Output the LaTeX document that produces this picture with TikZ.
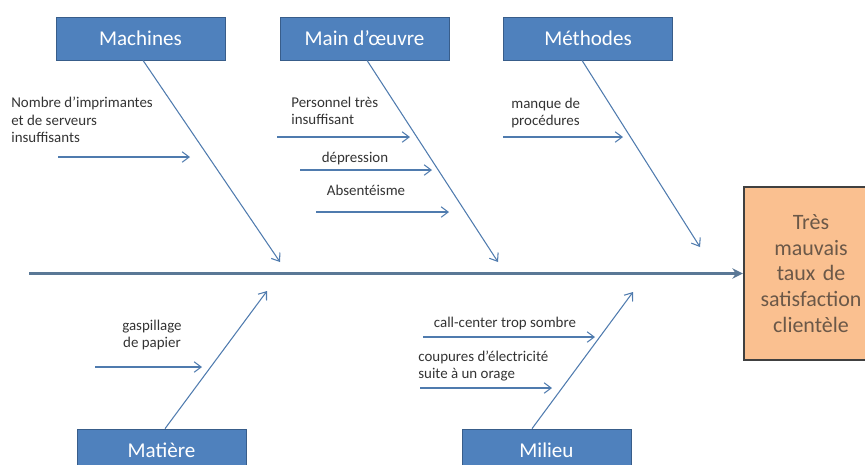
\documentclass[tikz,border=0pt]{standalone}
\usepackage{fontspec}
\setmainfont{Carlito}
\usetikzlibrary{arrows.meta}
\definecolor{boxblue}{HTML}{4F81BD}
\definecolor{boxline}{HTML}{385D8A}
\definecolor{arrowcol}{HTML}{4F7BAE}
\definecolor{spinecol}{HTML}{5A7896}
\definecolor{effectfill}{HTML}{FAC090}
\definecolor{effecttext}{HTML}{6B5848}
\tikzset{
  catbox/.style={draw=boxline, fill=boxblue, text=white, minimum width=3.38cm,
    minimum height=0.86cm, inner sep=0pt, font=\fontsize{12}{14}\selectfont},
  effectbox/.style={draw=black!75, line width=1.2pt, fill=effectfill, text=effecttext,
    minimum width=2.52cm, minimum height=3.46cm, text width=2.45cm, align=center,
    font=\fontsize{12.5}{14.7}\selectfont},
  cause/.style={inner sep=0pt, text=black!80, font=\fontsize{8.5}{9.8}\selectfont},
  branch/.style={draw=arrowcol, line width=0.6pt, -{Straight Barb[length=4pt,width=6pt]}},
  subarrow/.style={draw=arrowcol, line width=0.6pt, -{Straight Barb[length=4pt,width=6pt]}},
  spine/.style={draw=spinecol, line width=1.4pt, -{Stealth[length=6pt,width=6pt]}}
}
\begin{document}
\begin{tikzpicture}[x=0.02cm, y=-0.02cm]
  \useasboundingbox (0,0) rectangle (865,464);
  \clip (0,0) rectangle (865,464);

  % Category boxes
  \node [catbox] (mach) at (140.5,38.5) {Machines};
  \node [catbox] (mainoe) at (364.5,38.5) {Main d’œuvre};
  \node [catbox] (meth) at (588,38.5) {Méthodes};
  \node [catbox] (mati) at (161.5,450.5) {Matière};
  \node [catbox] (milieu) at (546.5,450.5) {Milieu};

  % Effect box
  \node [effectbox] (effect) at (811,273.5) {Très\\ mauvais\\ taux de\\ satisfaction\\ clientèle};

  % Drawing spine
  \coordinate (spinestart) at (29,273.5);
  \draw [spine] (spinestart) -- (effect.west);

  % Drawing branches
  \coordinate (machtip) at (280,262);
  \coordinate (mainoetip) at (498,262);
  \coordinate (methtip) at (700,247);
  \coordinate (matitip) at (267,291);
  \coordinate (milieutip) at (633,292);
  \draw [branch] ([xshift=0.05cm]mach.south) -- (machtip);
  \draw [branch] ([xshift=0.05cm]mainoe.south) -- (mainoetip);
  \draw [branch] ([xshift=-0.12cm]meth.south) -- (methtip);
  \draw [branch] ([xshift=0.07cm]mati.north) -- (matitip);
  \draw [branch] ([xshift=-0.29cm]milieu.north) -- (milieutip);

  % Causes Machines
  \node [cause, anchor=west, align=left] (nbimp) at (11,120) {Nombre d’imprimantes\\ et de serveurs\\ insuffisants};
  \coordinate (nbimpA) at (58,157);
  \coordinate (nbimpB) at (190,157);
  \draw [subarrow] (nbimpA) -- (nbimpB);

  % Causes Main d'oeuvre
  \node [cause, anchor=west, align=left] (perso) at (291,111) {Personnel très\\ insuffisant};
  \coordinate (persoA) at (277,137);
  \coordinate (persoB) at (410,137);
  \draw [subarrow] (persoA) -- (persoB);
  \node [cause] (depr) at (355,159) {dépression};
  \coordinate (deprA) at (300,170);
  \coordinate (deprB) at (432,170);
  \draw [subarrow] (deprA) -- (deprB);
  \node [cause] (absent) at (366,190) {Absentéisme};
  \coordinate (absentA) at (316,212);
  \coordinate (absentB) at (449,212);
  \draw [subarrow] (absentA) -- (absentB);

  % Causes Methodes
  \node [cause, anchor=west, align=left] (manque) at (511,113) {manque de\\ procédures};
  \coordinate (manqueA) at (503,137);
  \coordinate (manqueB) at (623,137);
  \draw [subarrow] (manqueA) -- (manqueB);

  % Causes Matiere
  \node [cause, align=center] (gasp) at (152,335) {gaspillage\\ de papier};
  \coordinate (gaspA) at (95,367);
  \coordinate (gaspB) at (202,367);
  \draw [subarrow] (gaspA) -- (gaspB);

  % Causes Milieu
  \node [cause] (callc) at (505,324) {call-center trop sombre};
  \coordinate (callcA) at (423,337);
  \coordinate (callcB) at (595,337);
  \draw [subarrow] (callcA) -- (callcB);
  \node [cause, anchor=west, align=left] (coup) at (418,366) {coupures d’électricité\\ suite à un orage};
  \coordinate (coupA) at (420,388);
  \coordinate (coupB) at (552,388);
  \draw [subarrow] (coupA) -- (coupB);
\end{tikzpicture}
\end{document}
